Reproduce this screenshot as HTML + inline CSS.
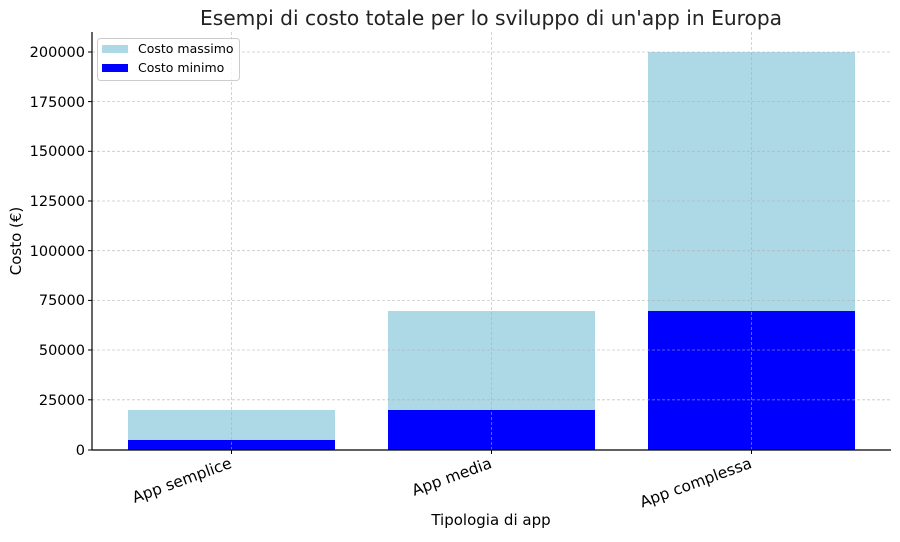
<!DOCTYPE html>
<html><head><meta charset="utf-8"><style>body{margin:0;background:#fff}</style></head><body>
<svg width="900" height="537" xmlns="http://www.w3.org/2000/svg" font-family="DejaVu Sans, Liberation Sans, sans-serif">
<rect width="900" height="537" fill="#fff"/>
<text x="491" y="25" font-size="20.2" text-anchor="middle" fill="#222">Esempi di costo totale per lo sviluppo di un'app in Europa</text>
<rect x="128" y="410" width="207" height="40" fill="#add8e6"/>
<rect x="128" y="440" width="207" height="10" fill="#0000ff"/>
<rect x="388" y="311" width="207" height="139" fill="#add8e6"/>
<rect x="388" y="410" width="207" height="40" fill="#0000ff"/>
<rect x="648" y="52" width="207" height="398" fill="#add8e6"/>
<rect x="648" y="311" width="207" height="139" fill="#0000ff"/>
<g stroke="#b0b0b0" stroke-width="0.8" stroke-dasharray="3,2" opacity="0.7">
<line x1="92" x2="891" y1="52" y2="52"/><line x1="92" x2="891" y1="101.6" y2="101.6"/>
<line x1="92" x2="891" y1="151.3" y2="151.3"/><line x1="92" x2="891" y1="201" y2="201"/>
<line x1="92" x2="891" y1="250.7" y2="250.7"/><line x1="92" x2="891" y1="300.4" y2="300.4"/>
<line x1="92" x2="891" y1="350" y2="350"/><line x1="92" x2="891" y1="399.8" y2="399.8"/>
<line x1="231.5" x2="231.5" y1="32" y2="450"/><line x1="491.5" x2="491.5" y1="32" y2="450"/><line x1="751.5" x2="751.5" y1="32" y2="450"/>
</g>
<line x1="92" y1="32" x2="92" y2="450" stroke="#000" stroke-width="1.2"/>
<line x1="92" y1="450" x2="891" y2="450" stroke="#000" stroke-width="1.2"/>
<g stroke="#000"><line x1="88" x2="92" y1="52" y2="52"/><line x1="88" x2="92" y1="101.6" y2="101.6"/><line x1="88" x2="92" y1="151.3" y2="151.3"/><line x1="88" x2="92" y1="201" y2="201"/><line x1="88" x2="92" y1="250.7" y2="250.7"/><line x1="88" x2="92" y1="300.4" y2="300.4"/><line x1="88" x2="92" y1="350" y2="350"/><line x1="88" x2="92" y1="399.8" y2="399.8"/><line x1="88" x2="92" y1="450" y2="450"/>
<line x1="231.5" x2="231.5" y1="450" y2="454"/><line x1="491.5" x2="491.5" y1="450" y2="454"/><line x1="751.5" x2="751.5" y1="450" y2="454"/></g>
<g font-size="14.5" text-anchor="end" fill="#000">
<text x="85" y="57">200000</text><text x="85" y="107">175000</text><text x="85" y="156">150000</text><text x="85" y="206">125000</text><text x="85" y="256">100000</text><text x="85" y="305">75000</text><text x="85" y="355">50000</text><text x="85" y="405">25000</text><text x="85" y="455">0</text>
</g>
<g font-size="15.5" text-anchor="end" fill="#000">
<text transform="translate(229,457) rotate(-20)" y="11">App semplice</text>
<text transform="translate(489,457) rotate(-20)" y="11">App media</text>
<text transform="translate(749,457) rotate(-20)" y="11">App complessa</text>
</g>
<text x="491" y="525" font-size="15" text-anchor="middle">Tipologia di app</text>
<text transform="translate(21,241) rotate(-90)" font-size="15" text-anchor="middle">Costo (€)</text>
<rect x="97.5" y="38.5" width="142" height="42" rx="3" fill="#fff" fill-opacity="0.8" stroke="#ccc"/>
<rect x="102" y="45" width="26" height="8" fill="#add8e6"/>
<rect x="102" y="64" width="26" height="8" fill="#0000ff"/>
<text x="138" y="53" font-size="12.5">Costo massimo</text>
<text x="138" y="72" font-size="12.5">Costo minimo</text>
</svg>
</body></html>
